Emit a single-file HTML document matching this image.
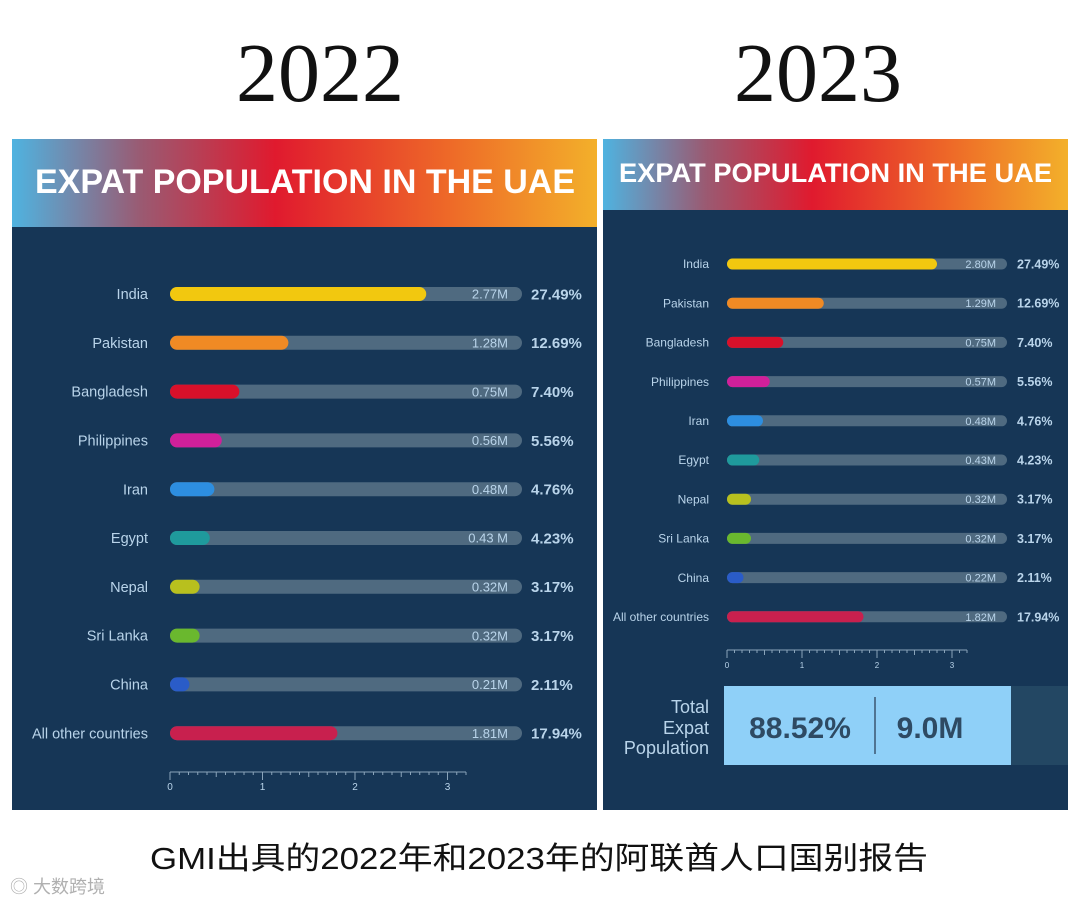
<!DOCTYPE html>
<html><head><meta charset="utf-8">
<style>
html,body{margin:0;padding:0;background:#fff;width:1080px;height:907px;overflow:hidden}
svg{display:block}
.lbl{font-family:"Liberation Sans",sans-serif;fill:#b9d4ea}
</style></head>
<body>
<svg id="root" width="1080" height="907" viewBox="0 0 1080 907" xmlns="http://www.w3.org/2000/svg">
<defs>
<linearGradient id="hdr" x1="0" x2="1" y1="0" y2="0">
<stop offset="0" stop-color="#4fb3e0"/><stop offset="0.22" stop-color="#9a5a72"/><stop offset="0.45" stop-color="#e01a2e"/><stop offset="0.75" stop-color="#ee6a28"/><stop offset="1" stop-color="#f3b02a"/>
</linearGradient>
</defs>
<text x="320" y="101" text-anchor="middle" font-family="Liberation Serif,serif" font-size="84" fill="#111">2022</text>
<text x="818" y="101" text-anchor="middle" font-family="Liberation Serif,serif" font-size="84" fill="#111">2023</text>

<g>
<rect x="12" y="139" width="585" height="88" fill="url(#hdr)"/>
<rect x="12" y="227" width="585" height="583" fill="#163656"/>
<text x="35" y="193" textLength="540" lengthAdjust="spacingAndGlyphs" font-family="Liberation Sans,sans-serif" font-weight="bold" font-size="34" fill="#fff">EXPAT POPULATION IN THE UAE</text>
<g id="c22"></g>
</g>
<g>
<rect x="603" y="139" width="465" height="71" fill="url(#hdr)"/>
<rect x="603" y="210" width="465" height="600" fill="#163656"/>
<text x="619" y="182" textLength="433" lengthAdjust="spacingAndGlyphs" font-family="Liberation Sans,sans-serif" font-weight="bold" font-size="27" fill="#fff">EXPAT POPULATION IN THE UAE</text>
<g id="c23"></g>
<g>
<rect x="1011" y="686" width="57" height="79" fill="#234763"/>
<rect x="724" y="686" width="287" height="79" fill="#8fd0f8"/>
<line x1="875" y1="697" x2="875" y2="754" stroke="#3a5670" stroke-width="1.5"/>
<text x="800" y="738" text-anchor="middle" font-family="Liberation Sans,sans-serif" font-weight="bold" font-size="30" fill="#2e4a63">88.52%</text>
<text x="930" y="738" text-anchor="middle" font-family="Liberation Sans,sans-serif" font-weight="bold" font-size="30" fill="#2e4a63">9.0M</text>
<text class="lbl" text-anchor="end" font-size="18" fill="#c9def0"><tspan x="709" y="713">Total</tspan><tspan x="709" y="734">Expat</tspan><tspan x="709" y="754">Population</tspan></text>
</g>
</g>

<text x="150" y="869" textLength="778" lengthAdjust="spacingAndGlyphs" font-family="Liberation Sans,Noto Sans CJK SC,sans-serif" font-size="31" fill="#111">GMI出具的2022年和2023年的阿联酋人口国别报告</text>
<text x="10" y="893" font-family="Liberation Sans,Noto Sans CJK SC,sans-serif" font-size="18" fill="#b0b0b0">◎ 大数跨境</text>
</svg>
<script>
const categories = ["India","Pakistan","Bangladesh","Philippines","Iran","Egypt","Nepal","Sri Lanka","China","All other countries"];
const colors = ["#f2c80f","#f08a24","#d8102a","#d0209a","#2d8ee0","#1f9a9c","#b8c01e","#6ab82e","#2a5cc8","#c8204e"];
const values2022 = [2.77,1.28,0.75,0.56,0.48,0.43,0.32,0.32,0.21,1.81];
const labels2022 = ["2.77M","1.28M","0.75M","0.56M","0.48M","0.43 M","0.32M","0.32M","0.21M","1.81M"];
const pct2022 = ["27.49%","12.69%","7.40%","5.56%","4.76%","4.23%","3.17%","3.17%","2.11%","17.94%"];
const values2023 = [2.80,1.29,0.75,0.57,0.48,0.43,0.32,0.32,0.22,1.82];
const labels2023 = ["2.80M","1.29M","0.75M","0.57M","0.48M","0.43M","0.32M","0.32M","0.22M","1.82M"];
const pct2023 = ["27.49%","12.69%","7.40%","5.56%","4.76%","4.23%","3.17%","3.17%","2.11%","17.94%"];
const ticks = [0,1,2,3];

const NS="http://www.w3.org/2000/svg";
function mk(tag,attrs,parent,txt){const e=document.createElementNS(NS,tag);for(const k in attrs)e.setAttribute(k,attrs[k]);if(txt!==undefined)e.textContent=txt;parent.appendChild(e);return e;}

function draw(g,cfg,vals,vlabels,pcts,tag){
  const x=v=>cfg.x0+v*cfg.pxPerM;
  const y=i=>cfg.y0+i*cfg.step;
  categories.forEach((c,i)=>{
    const cy=y(i);
    const t=mk('text',{x:cfg.labelX,y:cy+cfg.fs*0.35,'text-anchor':'end','font-size':cfg.fs,class:'lbl'},g,c);
    
    
    const tr=mk('rect',{x:cfg.x0,y:cy-cfg.h/2,width:cfg.trackW,height:cfg.h,rx:cfg.h/2,fill:'#4f6a80'},g);
    
    
    const b=mk('rect',{x:cfg.x0,y:cy-cfg.h/2,width:Math.max(cfg.h,x(vals[i])-cfg.x0),height:cfg.h,rx:cfg.h/2,fill:colors[i]},g);
    
    
    const v=mk('text',{x:cfg.x0+cfg.trackW-cfg.h,y:cy+cfg.vfs*0.36,'text-anchor':'end','font-size':cfg.vfs,class:'lbl',fill:'#a9c2d6'},g,vlabels[i]);
    
    
    const p=mk('text',{x:cfg.pctX,y:cy+cfg.pfs*0.36,'font-size':cfg.pfs,'font-weight':'bold',class:'lbl',fill:'#bfe3fb'},g,pcts[i]);
    
    
  });
  const ax=mk('line',{x1:cfg.x0,x2:x(3.2),y1:cfg.axisY,y2:cfg.axisY,stroke:'#8aa4ba','stroke-width':1},g);
  
  
  for(let k=0;k<=32;k++){
    const v=k/10;
    mk('line',{x1:x(v),x2:x(v),y1:cfg.axisY,y2:cfg.axisY+(k%10===0?8:(k%5===0?5:3)),stroke:'#8aa4ba','stroke-width':1},g);
  }
  ticks.forEach(t=>{
    const tl=mk('text',{x:x(t),y:cfg.axisY+18,'text-anchor':'middle','font-size':cfg.tfs,class:'lbl',fill:'#8aa4ba'},g,String(t));
    
    
  });
}
draw(document.getElementById('c22'),{x0:170,pxPerM:92.5,trackW:352,y0:294,step:48.8,h:14,labelX:148,pctX:531,fs:14.5,vfs:13,pfs:15,axisY:772,tfs:10},values2022,labels2022,pct2022,'2022');
draw(document.getElementById('c23'),{x0:727,pxPerM:75,trackW:280,y0:264,step:39.2,h:11,labelX:709,pctX:1017,fs:12,vfs:11,pfs:12.5,axisY:650,tfs:8},values2023,labels2023,pct2023,'2023');
</script>
</body></html>
